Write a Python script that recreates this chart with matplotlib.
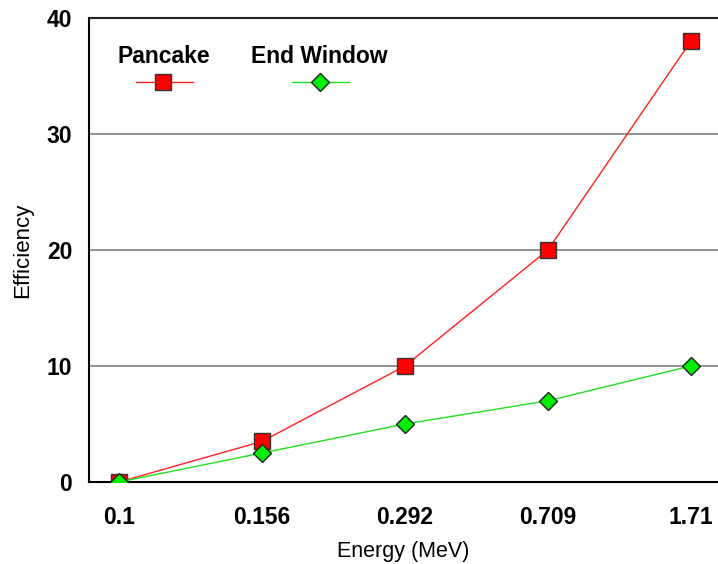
import matplotlib
matplotlib.use('Agg')
import matplotlib.pyplot as plt

plt.rcParams['font.family'] = ['Liberation Sans', 'DejaVu Sans']

energies = ['0.1', '0.156', '0.292', '0.709', '1.71']
pancake = [0, 3.5, 10, 20, 38]
end_window = [0, 2.5, 5, 7, 10]

fig = plt.figure(figsize=(7.18, 5.64), dpi=100)
ax = fig.add_axes([0.124, 0.1454, 0.876, 0.8227])

x = range(len(energies))
ax.plot(x, pancake, color='#ff2020', lw=1, marker='s', ms=11,
        mfc='#ff0000', mec='#333333', mew=1, zorder=3)
ax.plot(x, end_window, color='#20e020', lw=1, marker='D', ms=9,
        mfc='#00ee00', mec='#222222', mew=1, zorder=4)

ax.set_xlim(-0.21, 4.19)
ax.set_ylim(0, 40)
ax.set_yticks([0, 10, 20, 30, 40])
ax.set_xticks(list(x))
ax.set_xticklabels(energies)
for lab in ax.get_xticklabels() + ax.get_yticklabels():
    lab.set_fontweight('bold')
    lab.set_fontsize(16.5)
ax.tick_params(axis='both', length=0)
ax.tick_params(axis='x', pad=17)
ax.tick_params(axis='y', pad=12)

ax.yaxis.grid(True, color='#808080', lw=1.2)
ax.set_axisbelow(True)
ax.spines['right'].set_visible(False)
ax.spines['top'].set_color('#222222')
ax.spines['left'].set_lw(1.5)
ax.spines['bottom'].set_lw(1.5)
ax.spines['top'].set_lw(1.5)

ax.set_xlabel('Energy (MeV)', fontsize=15.5, labelpad=9)
ax.set_ylabel('Efficiency', fontsize=16, labelpad=10)

# legend drawn by hand: label above the sample line
ax.text(0.119, 0.918, 'Pancake', transform=ax.transAxes, fontsize=16.5,
        fontweight='bold', ha='center', va='center')
ax.plot([0.075, 0.165], [0.862, 0.862], transform=ax.transAxes, color='#ff2020', lw=1)
ax.plot([0.118], [0.862], transform=ax.transAxes, marker='s', ms=11,
        mfc='#ff0000', mec='#333333', mew=1)
ax.text(0.366, 0.918, 'End Window', transform=ax.transAxes, fontsize=16.5,
        fontweight='bold', ha='center', va='center')
ax.plot([0.323, 0.413], [0.862, 0.862], transform=ax.transAxes, color='#20e020', lw=1)
ax.plot([0.367], [0.862], transform=ax.transAxes, marker='D', ms=9,
        mfc='#00ee00', mec='#222222', mew=1)

fig.savefig('out.png', dpi=100)
